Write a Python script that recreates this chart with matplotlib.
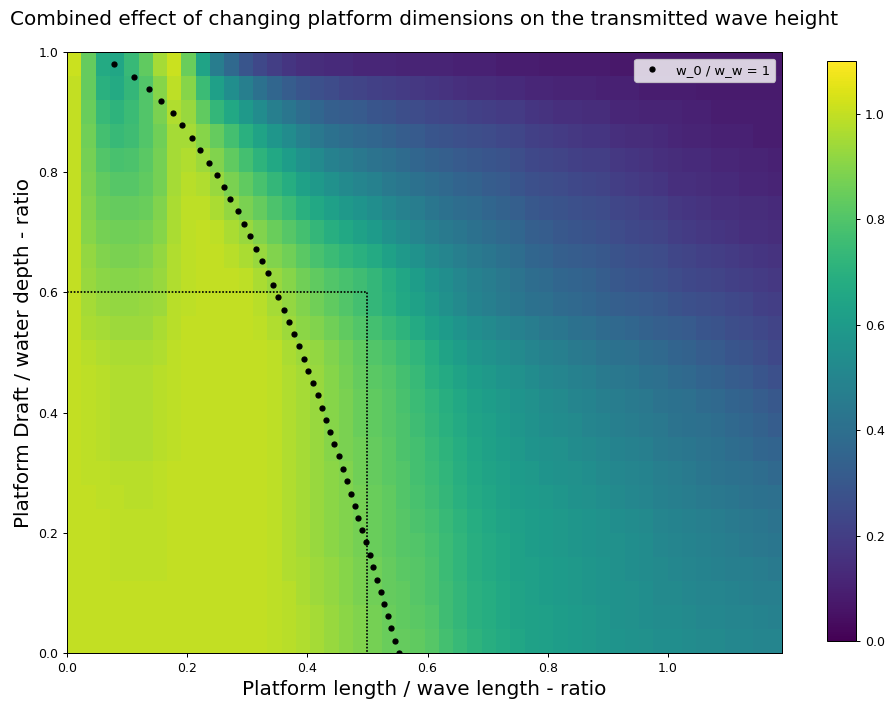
import numpy as np
import matplotlib
matplotlib.use("Agg")
import matplotlib.pyplot as plt

# ---------------- data ----------------
# transmitted wave height ratio; rows = draft ratio bands (bottom -> top, 0.04 each),
# columns = length ratio bands (left -> right, 50 bands over 0 .. 1.19)
row_00 = [1.00,1.00,1.00,1.00,1.00,1.00,1.00,1.00,1.00,1.00,1.00,1.00,1.00,1.00, .99,.98,.97,.95,.93,.91,.89,.87,.85,.84, .83,.81,.77,.74,.71,.69,.67,.65,.63,.62, .61,.60,.59,.58,.57,.56,.55,.54,.54,.53, .52,.52,.51,.51,.50,.50]
row_01 = [1.00,1.00,1.00,1.00,1.00,1.00,1.00,1.00,1.00,1.00,1.00,1.00,1.00,1.00, .99,.98,.97,.95,.93,.91,.89,.87,.85,.83, .82,.80,.76,.73,.70,.68,.66,.64,.63,.62, .61,.60,.59,.58,.56,.55,.54,.53,.53,.52, .51,.51,.50,.50,.49,.48]
row_02 = [1.00,1.00,1.00,1.00,1.00,1.00,1.00,1.00,1.00,1.00,1.00,1.00,1.00,1.00, .99,.98,.96,.94,.92,.90,.88,.86,.84,.83, .81,.79,.76,.73,.70,.68,.66,.64,.62,.61, .60,.59,.58,.57,.56,.55,.54,.52,.52,.51, .50,.50,.49,.48,.47,.47]
row_03 = [1.00,1.00,1.00,.99,.99,.99,.99,1.00,1.00,1.00,1.00,1.00,1.00,1.00, .99,.97,.96,.94,.92,.90,.88,.86,.84,.82, .81,.79,.75,.72,.69,.67,.65,.63,.62,.61, .60,.59,.58,.57,.55,.54,.53,.52,.51,.50, .49,.48,.47,.47,.46,.45]
row_04 = [1.00,1.00,1.00,.99,.99,.99,.99,1.00,1.00,1.00,1.00,1.00,1.00,1.00, .99,.97,.95,.93,.91,.89,.87,.85,.83,.81, .80,.78,.75,.72,.69,.67,.65,.63,.61,.60, .59,.58,.57,.56,.55,.54,.53,.51,.50,.49, .48,.47,.46,.45,.44,.43]
row_05 = [1.00,1.00,1.00,.99,.99,.99,.99,1.00,1.00,1.00,1.00,1.00,1.00,1.00, .99,.97,.95,.93,.91,.89,.87,.85,.83,.81, .79,.77,.74,.71,.68,.66,.64,.62,.61,.60, .59,.58,.57,.56,.54,.53,.52,.50,.49,.48, .47,.46,.45,.44,.43,.42]
row_06 = [1.00,1.00,.99,.99,.98,.98,.99,1.00,1.00,1.00,1.00,1.00,1.00,1.00, .99,.97,.95,.93,.91,.89,.87,.85,.83,.80, .78,.76,.73,.70,.67,.65,.63,.61,.60,.59, .58,.56,.55,.54,.52,.51,.50,.48,.47,.46, .45,.44,.43,.42,.41,.40]
row_07 = [1.00,.99,.99,.98,.98,.98,.99,1.00,1.00,1.00,1.00,1.00,1.00,1.00, .99,.97,.95,.93,.91,.89,.86,.84,.82,.80, .77,.75,.72,.69,.66,.64,.62,.60,.59,.57, .56,.55,.54,.52,.51,.50,.49,.47,.46,.45, .43,.42,.41,.40,.39,.37]
row_08 = [1.00,.99,.98,.97,.97,.97,.98,.99,1.00,1.00,1.00,1.00,1.00,1.00, .99,.97,.95,.93,.90,.88,.86,.84,.82,.79, .77,.74,.71,.68,.65,.63,.61,.59,.57,.56, .55,.53,.52,.51,.49,.48,.47,.45,.44,.43, .42,.41,.39,.38,.36,.35]
row_09 = [1.00,.99,.98,.97,.97,.97,.98,.99,1.00,1.00,1.00,1.00,1.00,1.00, .99,.97,.95,.93,.90,.88,.85,.83,.81,.79, .76,.73,.70,.67,.64,.62,.60,.58,.56,.54, .53,.52,.50,.49,.47,.46,.45,.44,.42,.41, .40,.39,.37,.36,.34,.32]
row_10 = [1.00,.99,.98,.97,.97,.97,.98,.99,1.00,1.00,1.00,1.00,1.00,1.00, .99,.97,.95,.93,.90,.88,.85,.83,.81,.78, .75,.72,.69,.66,.63,.61,.59,.57,.55,.53, .52,.50,.49,.47,.46,.45,.44,.42,.41,.40, .38,.37,.35,.34,.32,.30]
row_11 = [1.00,.99,.98,.97,.97,.97,.98,.99,1.00,1.00,1.00,1.00,1.00,1.00, .99,.97,.95,.93,.90,.87,.84,.82,.80,.77, .74,.70,.67,.64,.61,.59,.57,.55,.53,.51, .50,.48,.47,.45,.44,.43,.41,.40,.38,.37, .35,.34,.32,.31,.29,.27]
row_12 = [1.00,.98,.97,.96,.96,.96,.97,.99,1.00,1.00,1.00,1.00,1.00,1.00, .99,.96,.94,.92,.89,.86,.83,.80,.78,.75, .72,.68,.64,.61,.58,.56,.54,.52,.50,.48, .47,.45,.44,.42,.41,.40,.38,.37,.35,.34, .32,.31,.29,.28,.26,.24]
row_13 = [1.00,.96,.95,.94,.94,.94,.96,.98,1.00,1.00,1.00,1.00,1.00,.99, .97,.94,.91,.89,.86,.83,.80,.77,.74,.71, .67,.63,.60,.57,.54,.52,.50,.48,.46,.44, .43,.41,.40,.38,.37,.36,.34,.33,.32,.31, .29,.28,.26,.25,.24,.22]
row_14 = [1.00,.95,.93,.92,.92,.93,.94,.98,.99,1.00,1.00,1.00,1.00,.98, .95,.92,.89,.86,.83,.80,.77,.73,.70,.66, .63,.59,.55,.52,.49,.47,.45,.43,.41,.40, .38,.37,.36,.34,.33,.32,.31,.30,.28,.27, .26,.25,.24,.23,.21,.20]
row_15 = [1.00,.93,.91,.90,.90,.91,.93,.97,.99,1.00,1.00,1.00,.99,.96, .93,.90,.86,.83,.80,.78,.76,.73,.69,.65, .61,.57,.54,.51,.48,.46,.44,.42,.39,.38, .36,.35,.34,.32,.30,.29,.28,.27,.25,.24, .23,.22,.21,.20,.19,.18]
row_16 = [1.00,.92,.89,.88,.88,.89,.92,.97,.99,1.00,1.00,.98,.96,.93, .89,.86,.82,.78,.75,.72,.70,.67,.63,.59, .56,.52,.50,.47,.45,.43,.41,.39,.36,.35, .33,.32,.31,.30,.28,.27,.26,.25,.23,.22, .21,.20,.19,.18,.17,.16]
row_17 = [1.00,.90,.87,.86,.86,.87,.90,.96,.99,1.00,.99,.96,.93,.89, .85,.81,.77,.73,.69,.66,.63,.60,.56,.53, .50,.47,.45,.43,.41,.39,.37,.36,.33,.32, .30,.29,.28,.27,.25,.24,.23,.22,.20,.19, .18,.17,.16,.15,.15,.14]
row_18 = [1.00,.89,.85,.84,.84,.85,.89,.96,.99,.99,.96,.92,.88,.84, .79,.75,.70,.66,.62,.59,.57,.54,.51,.48, .46,.43,.41,.39,.38,.36,.34,.33,.30,.29, .28,.27,.26,.25,.23,.22,.21,.20,.18,.17, .16,.15,.15,.14,.14,.13]
row_19 = [1.00,.88,.83,.81,.81,.83,.87,.95,.98,.97,.93,.88,.83,.78, .73,.68,.63,.59,.55,.52,.50,.48,.45,.43, .41,.39,.37,.35,.34,.32,.31,.29,.27,.26, .25,.24,.23,.22,.20,.19,.18,.17,.15,.15, .14,.13,.13,.12,.12,.11]
row_20 = [1.00,.87,.80,.78,.79,.82,.87,.95,.97,.94,.89,.83,.77,.71, .66,.61,.56,.52,.48,.46,.44,.42,.40,.38, .36,.34,.33,.31,.30,.29,.28,.26,.24,.23, .22,.21,.20,.20,.18,.17,.16,.15,.14,.13, .13,.12,.12,.11,.11,.10]
row_21 = [1.00,.86,.77,.74,.76,.80,.86,.95,.95,.90,.84,.77,.70,.64, .58,.53,.48,.44,.41,.39,.37,.36,.34,.32, .31,.29,.28,.27,.26,.25,.24,.23,.21,.20, .19,.18,.17,.17,.15,.14,.14,.13,.12,.11, .11,.10,.10,.10,.09,.09]
row_22 = [1.00,.85,.74,.71,.75,.80,.88,.97,.93,.83,.73,.66,.59,.53, .47,.43,.39,.36,.33,.32,.31,.29,.28,.26, .25,.24,.23,.22,.21,.20,.19,.19,.17,.16, .15,.15,.14,.14,.12,.12,.11,.11,.11,.10, .10,.09,.09,.09,.09,.09]
row_23 = [1.00,.84,.70,.67,.73,.80,.90,.99,.90,.75,.62,.54,.47,.41, .36,.32,.29,.27,.25,.23,.22,.21,.20,.19, .18,.17,.16,.15,.14,.14,.13,.13,.12,.12, .11,.11,.11,.10,.10,.10,.09,.09,.09,.09, .08,.08,.08,.08,.08,.08]
row_24 = [1.01,.84,.67,.65,.74,.83,.95,1.01,.85,.64,.46,.37,.29,.24, .20,.17,.15,.14,.13,.13,.12,.12,.12,.11, .11,.11,.11,.10,.10,.10,.09,.09,.09,.08, .08,.08,.08,.08,.07,.07,.07,.07,.07,.07, .07,.07,.07,.07,.07,.07]

wave_ratio = np.array([row_00, row_01, row_02, row_03, row_04, row_05, row_06, row_07,
                       row_08, row_09, row_10, row_11, row_12, row_13, row_14, row_15,
                       row_16, row_17, row_18, row_19, row_20, row_21, row_22, row_23,
                       row_24])

length_edges = np.linspace(0.0, 1.19, 51)
draft_edges = np.linspace(0.0, 1.0, 26)

# points where w_0 / w_w = 1
unity_length = [0.552, 0.546, 0.540, 0.534, 0.528, 0.523, 0.516, 0.510, 0.504, 0.498,
                0.491, 0.485, 0.479, 0.473, 0.466, 0.459, 0.453, 0.445, 0.438, 0.431,
                0.424, 0.417, 0.409, 0.401, 0.394, 0.386, 0.378, 0.369, 0.361, 0.352,
                0.343, 0.334, 0.325, 0.315, 0.305, 0.295, 0.284, 0.272, 0.261, 0.249,
                0.236, 0.222, 0.208, 0.192, 0.176, 0.157, 0.136, 0.111, 0.079]
unity_draft = [0.000, 0.020, 0.041, 0.061, 0.082, 0.102, 0.122, 0.143, 0.163, 0.184,
               0.204, 0.224, 0.245, 0.265, 0.286, 0.306, 0.327, 0.347, 0.367, 0.388,
               0.408, 0.429, 0.449, 0.469, 0.490, 0.510, 0.531, 0.551, 0.571, 0.592,
               0.612, 0.633, 0.653, 0.673, 0.694, 0.714, 0.735, 0.755, 0.776, 0.796,
               0.816, 0.837, 0.857, 0.878, 0.898, 0.918, 0.939, 0.959, 0.980]

# design box
box_length = [0.0, 0.5, 0.5]
box_draft = [0.6, 0.6, 0.0]

title = "Combined effect of changing platform dimensions on the transmitted wave height"
xlabel = "Platform length / wave length - ratio"
ylabel = "Platform Draft / water depth - ratio"
legend_label = "w_0 / w_w = 1"
cbar_ticks = [0.0, 0.2, 0.4, 0.6, 0.8, 1.0]

# ---------------- figure ----------------
W, H, DPI = 889, 704, 90
fig = plt.figure(figsize=((W + 0.01) / DPI, (H + 0.01) / DPI), dpi=DPI)
ax = fig.add_axes([67 / W, 1 - 653 / H, 715 / W, 601 / H])
cax = fig.add_axes([827 / W, 1 - 641 / H, 29 / W, 580 / H])

mesh = ax.pcolormesh(length_edges, draft_edges, wave_ratio, cmap="viridis",
                     vmin=0.0, vmax=1.1, shading="flat")
ax.plot(box_length, box_draft, color="black", linestyle=(0, (1, 1)), linewidth=1.35)
ax.plot(unity_length, unity_draft, "k.", markersize=8, label=legend_label)

ax.set_xlim(0.0, 1.19)
ax.set_ylim(0.0, 1.0)
ax.set_xticks([0.0, 0.2, 0.4, 0.6, 0.8, 1.0])
ax.set_yticks([0.0, 0.2, 0.4, 0.6, 0.8, 1.0])
ax.tick_params(labelsize=10)
ax.set_xlabel(xlabel, fontsize=16)
ax.set_ylabel(ylabel, fontsize=16)
ax.legend(loc="upper right", fontsize=10.5)

cb = fig.colorbar(mesh, cax=cax, ticks=cbar_ticks)
cb.ax.tick_params(labelsize=10)

fig.text((67 + 782) / 2 / W, 1 - 25 / H, title, ha="center", va="baseline", fontsize=16)

fig.savefig("out.png", dpi=DPI)
